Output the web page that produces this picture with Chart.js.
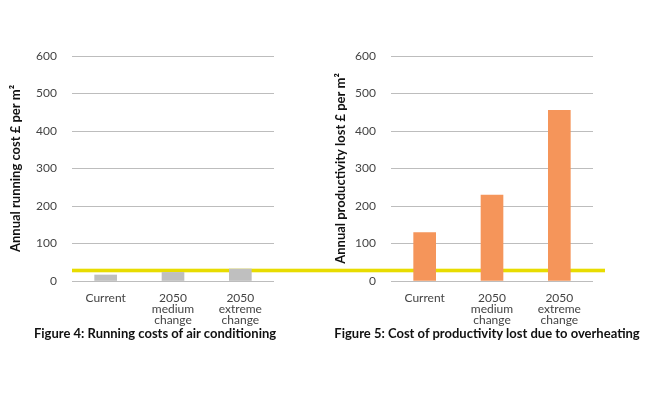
<!DOCTYPE html>
<html>
<head>
<meta charset="utf-8">
<script src="https://cdn.jsdelivr.net/npm/chart.js@4"></script>
<style>
  html, body { margin: 0; padding: 0; background: #fff; }
  #wrap { position: relative; width: 650px; height: 396px; overflow: hidden; }
  canvas { position: absolute; top: 0; }
  #c1 { left: 0; }
  #c2 { left: 310px; }
  .caption {
    position: absolute; top: 325px; white-space: nowrap;
    font: bold 13px Lato, sans-serif; color: #111;
    transform: translateX(-50%);
  }
</style>
</head>
<body>
<div id="wrap">
  <canvas id="c1" width="310" height="396"></canvas>
  <canvas id="c2" width="340" height="396"></canvas>
  <div class="caption" style="left:155px">Figure 4: Running costs of air conditioning</div>
  <div class="caption" style="left:487px">Figure 5: Cost of productivity lost due to overheating</div>
</div>
<script>
const categories = ['Current', ['2050', 'medium', 'change'], ['2050', 'extreme', 'change']];
const runningCost = [16, 23, 32];
const productivityLost = [129, 229, 455];
const yTicks = [0, 100, 200, 300, 400, 500, 600];
const highlightLevel = 28;

// yellow band that runs across both charts, behind the bars
const guideLine = {
  id: 'guideLine',
  beforeDatasetsDraw(chart, args, opts) {
    const {ctx, chartArea, scales} = chart;
    const y = scales.y.getPixelForValue(highlightLevel);
    const x1 = opts.fromEdge ? 0 : chartArea.left;
    const x2 = opts.toEdge ? chart.width : chartArea.right + opts.extra;
    ctx.save();
    ctx.fillStyle = '#e8dc00';
    ctx.fillRect(x1, y - 1.8, x2 - x1, 3.6);
    ctx.restore();
  }
};

const makeChart = (id, values, color, yTitle, yWidth, titleShift, padRight, guide) => {
  return new Chart(document.getElementById(id), {
    type: 'bar',
    data: {
      labels: categories,
      datasets: [{
        data: values,
        backgroundColor: color,
        barThickness: 22
      }]
    },
    options: {
      responsive: false,
      animation: false,
      layout: { padding: { left: 3, right: padRight, top: 56, bottom: 67 } },
      plugins: {
        legend: { display: false },
        tooltip: { enabled: false },
        guideLine: guide
      },
      scales: {
        x: {
          grid: { display: false },
          border: { display: false },
          ticks: {
            color: '#444',
            padding: 4,
            maxRotation: 0,
            font: { family: 'Lato', size: 12, lineHeight: 0.9 }
          },
          afterFit: (s) => { s.height = 48; }
        },
        y: {
          min: 0,
          max: 600,
          afterBuildTicks: (s) => { s.ticks = yTicks.map(v => ({value: v})); },
          grid: { color: '#bdbdbd', drawTicks: false },
          border: { display: false },
          ticks: {
            color: '#444',
            padding: 15,
            font: { family: 'Lato', size: 12 }
          },
          title: {
            display: true,
            text: yTitle,
            color: '#111',
            padding: { top: titleShift, bottom: 0 },
            font: { family: 'Lato', size: 13, weight: 'bold' }
          },
          afterFit: (s) => { s.width = yWidth; }
        }
      }
    },
    plugins: [guideLine]
  });
};

makeChart('c1', runningCost, '#bfbfbf', 'Annual running cost £ per m²', 69, 5, 36,
  { fromEdge: false, toEdge: true, extra: 0 });
makeChart('c2', productivityLost, '#f5955a', 'Annual productivity lost £ per m²', 78, 20, 57,
  { fromEdge: true, toEdge: false, extra: 12 });
</script>
</body>
</html>
